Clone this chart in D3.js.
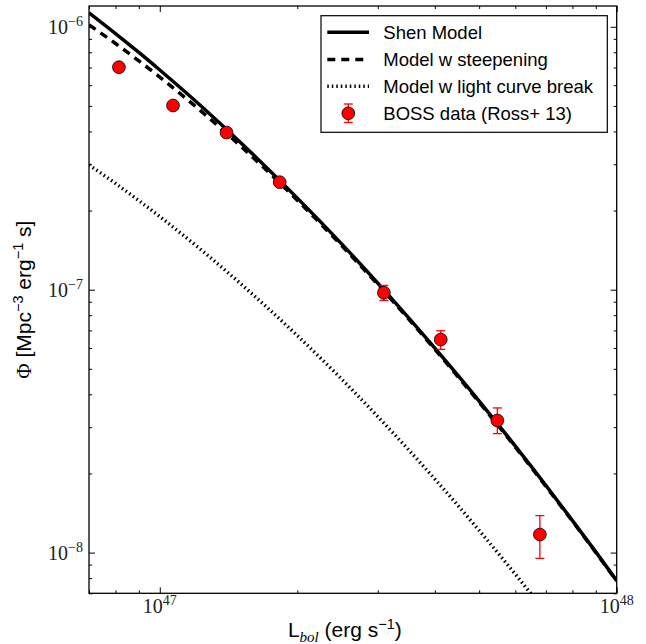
<!DOCTYPE html>
<html><head><meta charset="utf-8">
<script src="https://cdn.jsdelivr.net/npm/d3@7"></script>
<style>body{margin:0;background:#fff;} svg{display:block}</style>
</head><body>
<script>
// ---- data ----
const luminosity = [7e46, 8e46, 9e46, 1e47, 1.25e47, 1.5e47, 2e47, 2.5e47, 3e47, 4e47, 5e47, 6e47, 7e47, 8e47, 9e47, 1e48];
const shenModel = [1.131e-6, 9.43e-7, 7.99e-7, 6.85e-7, 4.88e-7, 3.64e-7, 2.23e-7, 1.494e-7, 1.059e-7, 5.99e-8, 3.77e-8, 2.54e-8, 1.80e-8, 1.324e-8, 1.006e-8, 7.82e-9];
const steepeningModel = [1.017e-6, 8.64e-7, 7.42e-7, 6.44e-7, 4.67e-7, 3.53e-7, 2.19e-7, 1.472e-7, 1.046e-7, 5.93e-8, 3.73e-8, 2.52e-8, 1.786e-8, 1.317e-8, 1.001e-8, 7.78e-9];
const lightCurveBreakModel = [2.986e-7, 2.536e-7, 2.182e-7, 1.897e-7, 1.388e-7, 1.057e-7, 6.69e-8, 4.57e-8, 3.29e-8, 1.904e-8, 1.214e-8, 8.27e-9, 5.92e-9, null, null, null];

const bossL = [8.14e46, 1.069e47, 1.40e47, 1.83e47, 3.094e47, 4.12e47, 5.48e47, 6.79e47];
const bossPhi = [7.02e-7, 5.02e-7, 3.96e-7, 2.565e-7, 9.74e-8, 6.46e-8, 3.18e-8, 1.171e-8];
const bossLow = [6.9e-7, 4.93e-7, 3.89e-7, 2.52e-7, 9.11e-8, 5.93e-8, 2.835e-8, 9.51e-9];
const bossHigh = [7.14e-7, 5.11e-7, 4.03e-7, 2.61e-7, 1.038e-7, 6.98e-8, 3.55e-8, 1.382e-8];

const xMajorTicks = [1e47, 1e48];
const xTickExponents = ["47", "48"];
const yMajorTicks = [1e-8, 1e-7, 1e-6];
const yTickExponents = ["\u22128", "\u22127", "\u22126"];

const legendLabels = ["Shen Model", "Model w steepening", "Model w light curve break", "BOSS data (Ross+ 13)"];

// ---- layout ----
const W = 646, H = 644;
const margin = {left: 89, right: 29.3, top: 6, bottom: 50.7};
const pw = W - margin.left - margin.right, ph = H - margin.top - margin.bottom;

const x = d3.scaleLog().domain([7e46, 1e48]).range([0, pw]);
const y = d3.scaleLog().domain([7e-9, 1.2e-6]).range([ph, 0]);

const svg = d3.select("body").append("svg").attr("width", W).attr("height", H);
svg.append("rect").attr("width", W).attr("height", H).attr("fill", "#fff");
svg.append("defs").append("clipPath").attr("id", "clip")
  .append("rect").attr("width", pw).attr("height", ph);

const g = svg.append("g").attr("transform", `translate(${margin.left},${margin.top})`);

// ticks (inward, all four sides)
const xMinor = x.ticks().filter(v => !xMajorTicks.includes(v));
const yMinor = y.ticks().filter(v => !yMajorTicks.some(m => Math.abs(m - v) / m < 1e-6));
function tickAxis(axisFn, scale, vals, size, transform) {
  const a = axisFn(scale).tickValues(vals).tickSize(-size).tickFormat("");
  const sel = g.append("g").attr("transform", transform).call(a);
  sel.select(".domain").remove();
  sel.selectAll("line").attr("stroke", "#000").attr("stroke-width", 1);
}
tickAxis(d3.axisBottom, x, xMajorTicks, 6, `translate(0,${ph})`);
tickAxis(d3.axisBottom, x, xMinor, 3, `translate(0,${ph})`);
tickAxis(d3.axisTop, x, xMajorTicks, 6, `translate(0,0)`);
tickAxis(d3.axisTop, x, xMinor, 3, `translate(0,0)`);
tickAxis(d3.axisLeft, y, yMajorTicks, 6, `translate(0,0)`);
tickAxis(d3.axisLeft, y, yMinor, 3, `translate(0,0)`);
tickAxis(d3.axisRight, y, yMajorTicks, 6, `translate(${pw},0)`);
tickAxis(d3.axisRight, y, yMinor, 3, `translate(${pw},0)`);

// tick labels
const serif = "'Liberation Serif', 'DejaVu Serif', serif";
xMajorTicks.forEach((v, i) => {
  const t = g.append("text").attr("x", x(v)).attr("y", ph + 20)
    .attr("text-anchor", "middle").attr("font-family", serif).attr("font-size", 20).attr("fill", "#222");
  t.append("tspan").text("10");
  t.append("tspan").attr("dy", -8).attr("font-size", 14).text(xTickExponents[i]);
});
yMajorTicks.forEach((v, i) => {
  const t = g.append("text").attr("x", -6).attr("y", y(v) + 7)
    .attr("text-anchor", "end").attr("font-family", serif).attr("font-size", 20).attr("fill", "#222");
  t.append("tspan").text("10");
  t.append("tspan").attr("dy", -8).attr("font-size", 14).text(yTickExponents[i]);
});

// curves
const plot = g.append("g").attr("clip-path", "url(#clip)");
function drawCurve(vals, dash, width) {
  const pts = luminosity.map((l, i) => [l, vals[i]]);
  const line = d3.line().defined(d => d[1] != null)
    .x(d => x(d[0])).y(d => y(d[1])).curve(d3.curveMonotoneX);
  plot.append("path").attr("d", line(pts)).attr("fill", "none")
    .attr("stroke", "#000").attr("stroke-width", width)
    .attr("stroke-dasharray", dash);
}
drawCurve(lightCurveBreakModel, "1.5,3", 3.5);
drawCurve(steepeningModel, "8,6", 3.5);
drawCurve(shenModel, null, 3.5);

// BOSS data
const pts = plot.append("g");
bossL.forEach((l, i) => {
  const cx = x(l);
  const y1 = y(bossHigh[i]), y2 = y(bossLow[i]);
  pts.append("line").attr("x1", cx).attr("x2", cx).attr("y1", y1).attr("y2", y2)
    .attr("stroke", "red").attr("stroke-width", 1.3);
  [y1, y2].forEach(yy => pts.append("line").attr("x1", cx - 4.5).attr("x2", cx + 4.5)
    .attr("y1", yy).attr("y2", yy).attr("stroke", "red").attr("stroke-width", 1.3));
});
bossL.forEach((l, i) => {
  pts.append("circle").attr("cx", x(l)).attr("cy", y(bossPhi[i])).attr("r", 6.4)
    .attr("fill", "red").attr("stroke", "#000").attr("stroke-width", 0.8);
});

// frame
g.append("rect").attr("width", pw).attr("height", ph).attr("fill", "none")
  .attr("stroke", "#000").attr("stroke-width", 1.3);

// legend
const sans = "'Liberation Sans', Arial, Helvetica, sans-serif";
const lg = svg.append("g");
lg.append("rect").attr("x", 321).attr("y", 15.7).attr("width", 286.3).attr("height", 116.6)
  .attr("fill", "#fff").attr("stroke", "#000").attr("stroke-width", 1.2);
const rowY = [32.3, 59.5, 86.3, 113.3];
const styles = [null, "8,6", "1.5,3"];
styles.forEach((s, i) => {
  lg.append("line").attr("x1", 327.3).attr("x2", 369).attr("y1", rowY[i]).attr("y2", rowY[i])
    .attr("stroke", "#000").attr("stroke-width", 3.5).attr("stroke-dasharray", s);
});
lg.append("line").attr("x1", 348.3).attr("x2", 348.3).attr("y1", 104).attr("y2", 122.5)
  .attr("stroke", "red").attr("stroke-width", 1.3);
[104, 122.5].forEach(yy => lg.append("line").attr("x1", 343.8).attr("x2", 352.8)
  .attr("y1", yy).attr("y2", yy).attr("stroke", "red").attr("stroke-width", 1.3));
lg.append("circle").attr("cx", 348.3).attr("cy", 113.3).attr("r", 6.4)
  .attr("fill", "red").attr("stroke", "#000").attr("stroke-width", 0.8);
legendLabels.forEach((t, i) => {
  lg.append("text").attr("x", 383.3).attr("y", rowY[i] + 6.5)
    .attr("font-family", sans).attr("font-size", 18.5).attr("fill", "#000").text(t);
});

// axis labels
const xl = svg.append("text").attr("x", margin.left + pw / 2 - 8).attr("y", 637)
  .attr("text-anchor", "middle").attr("font-family", sans).attr("font-size", 21).attr("fill", "#000");
xl.append("tspan").text("L");
xl.append("tspan").attr("dy", 4.5).attr("font-size", 15).attr("font-style", "italic").attr("font-family", serif).text("bol");
xl.append("tspan").attr("dy", -4.5).text(" (erg s");
xl.append("tspan").attr("dy", -8).attr("font-size", 14.5).text("\u22121");
xl.append("tspan").attr("dy", 8).text(")");

const yl = svg.append("text").attr("transform", `translate(31,${margin.top + ph / 2}) rotate(-90)`)
  .attr("text-anchor", "middle").attr("font-family", sans).attr("font-size", 21).attr("fill", "#000");
yl.append("tspan").attr("font-family", serif).text("\u03A6");
yl.append("tspan").text(" [Mpc");
yl.append("tspan").attr("dy", -8).attr("font-size", 14.5).text("\u22123");
yl.append("tspan").attr("dy", 8).text(" erg");
yl.append("tspan").attr("dy", -8).attr("font-size", 14.5).text("\u22121");
yl.append("tspan").attr("dy", 8).text(" s]");
</script>
</body></html>
